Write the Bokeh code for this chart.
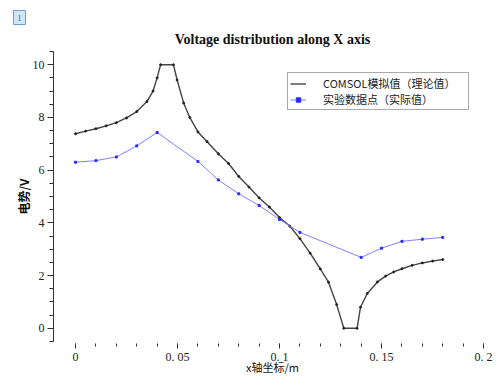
from bokeh.plotting import figure
from bokeh.models import FixedTicker, Legend, LegendItem, Title, Range1d
from bokeh.embed import file_html
from bokeh.resources import INLINE

# COMSOL simulated values (theoretical)
comsol_x = [0, 0.005, 0.01, 0.015, 0.02, 0.025, 0.03, 0.035, 0.038, 0.040, 0.0417,
            0.048, 0.0498, 0.053, 0.056, 0.060, 0.0645, 0.07, 0.075, 0.08, 0.085,
            0.09, 0.095, 0.1, 0.105, 0.11, 0.115, 0.12, 0.124, 0.128, 0.1315,
            0.138, 0.1397, 0.143, 0.148, 0.152, 0.156, 0.16, 0.165, 0.17, 0.175, 0.18]
comsol_y = [7.38, 7.48, 7.57, 7.68, 7.80, 7.98, 8.22, 8.6, 9.0, 9.5, 10.0,
            10.0, 9.42, 8.55, 8.0, 7.45, 7.08, 6.62, 6.25, 5.76, 5.36,
            4.95, 4.6, 4.2, 3.88, 3.4, 2.85, 2.25, 1.75, 0.9, 0.0,
            0.0, 0.8, 1.32, 1.76, 1.98, 2.14, 2.26, 2.39, 2.48, 2.55, 2.61]

# Experimental data points (measured)
exp_x = [0, 0.01, 0.02, 0.03, 0.04, 0.06, 0.07, 0.08, 0.09, 0.1, 0.11,
         0.14, 0.15, 0.16, 0.17, 0.18]
exp_y = [6.3, 6.36, 6.5, 6.92, 7.43, 6.33, 5.63, 5.1, 4.66, 4.13, 3.64,
         2.69, 3.04, 3.3, 3.38, 3.45]

x_ticks = [0, 0.05, 0.1, 0.15, 0.2]
x_tick_labels = ["0", "0. 05", "0. 1", "0. 15", "0. 2"]
x_minor = [0, 0.01, 0.02, 0.03, 0.04, 0.05, 0.06, 0.07, 0.08, 0.09, 0.1,
           0.11, 0.12, 0.13, 0.14, 0.15, 0.16, 0.17, 0.18, 0.19, 0.2]
y_ticks = [0, 2, 4, 6, 8, 10]
y_minor = [-0.5, 0, 0.5, 1, 1.5, 2, 2.5, 3, 3.5, 4, 4.5, 5, 5.5, 6, 6.5, 7,
           7.5, 8, 8.5, 9, 9.5, 10, 10.5]

X0, X1 = -0.0108, 0.2039
Y0, Y1 = -0.5, 10.5

badge = Title(text="1", align="left", offset=-40, text_font="Liberation Serif",
              text_font_size="8px", text_font_style="normal", text_color="#555555",
              padding=4, background_fill_color="#cfe5f8",
              border_line_color="#6e9fd2", border_line_width=1, standoff=0)

p = figure(width=496, height=379, output_backend="svg", toolbar_location=None,
           title=badge,
           x_range=Range1d(X0, X1), y_range=Range1d(Y0, Y1),
           min_border_left=53, min_border_right=5, min_border_top=51,
           min_border_bottom=38)
p.outline_line_color = None
p.grid.grid_line_color = None
p.background_fill_color = "white"
p.border_fill_color = "white"

main_title = Title(text="Voltage distribution along X axis", align="center",
                   text_font="Liberation Serif", text_font_size="14px",
                   text_font_style="bold", text_color="#111111")
p.add_layout(main_title, "above")

# axes
xa = p.xaxis[0]
xa.ticker = FixedTicker(ticks=x_ticks, minor_ticks=x_minor)
xa.major_label_overrides = {t: l for t, l in zip(x_ticks, x_tick_labels)}
xa.axis_line_color = None
xa.major_tick_line_color = "#333333"
xa.minor_tick_line_color = "#333333"
xa.major_tick_in = -2
xa.major_tick_out = 7
xa.minor_tick_in = -2
xa.minor_tick_out = 5
xa.major_label_standoff = 1
xa.major_label_text_font = "Liberation Serif"
xa.major_label_text_font_size = "12px"
xa.major_label_text_color = "#222222"
xa.axis_label = "x轴坐标/m"
xa.axis_label_text_font = "Noto Sans CJK SC"
xa.axis_label_text_font_size = "11px"
xa.axis_label_text_font_style = "normal"
xa.axis_label_text_color = "#111111"
xa.axis_label_standoff = -8

ya = p.yaxis[0]
ya.ticker = FixedTicker(ticks=y_ticks, minor_ticks=y_minor)
ya.axis_line_color = "#333333"
ya.major_tick_line_color = "#333333"
ya.minor_tick_line_color = "#333333"
ya.major_tick_in = 0
ya.major_tick_out = 6
ya.minor_tick_in = 0
ya.minor_tick_out = 4
ya.major_label_standoff = 3
ya.major_label_text_font = "Liberation Serif"
ya.major_label_text_font_size = "12px"
ya.major_label_text_color = "#222222"
ya.axis_label = "电势/V"
ya.axis_label_text_font = "Noto Sans CJK SC"
ya.axis_label_text_font_size = "12px"
ya.axis_label_text_font_style = "bold"
ya.axis_label_text_color = "#111111"
ya.axis_label_standoff = -2

# data
r1 = p.line(comsol_x, comsol_y, line_color="#444444", line_width=1.4)
p.scatter(comsol_x, comsol_y, marker="circle", size=2, fill_color="#222222",
          line_color="#222222")
r2 = p.line(exp_x, exp_y, line_color="#8080ff", line_width=1)
r2m = p.scatter(exp_x, exp_y, marker="square", size=2, fill_color="#2a2aff",
                line_color="#2a2aff")

legend = Legend(items=[LegendItem(label="COMSOL模拟值（理论值）", renderers=[r1]),
                       LegendItem(label="实验数据点（实际值）", renderers=[r2, r2m])],
                location=(234, 231))
legend.label_text_font = "Noto Sans CJK SC"
legend.label_text_font_size = "11px"
legend.label_text_color = "#222222"
legend.glyph_width = 16
legend.glyph_height = 11
legend.label_height = 11
legend.label_width = 143
legend.label_standoff = 17
legend.spacing = 0
legend.padding = 2
legend.margin = 0
legend.border_line_color = "#555555"
legend.border_line_width = 1
legend.background_fill_alpha = 1
p.add_layout(legend)

open("out.html", "w").write(file_html(p, INLINE))
